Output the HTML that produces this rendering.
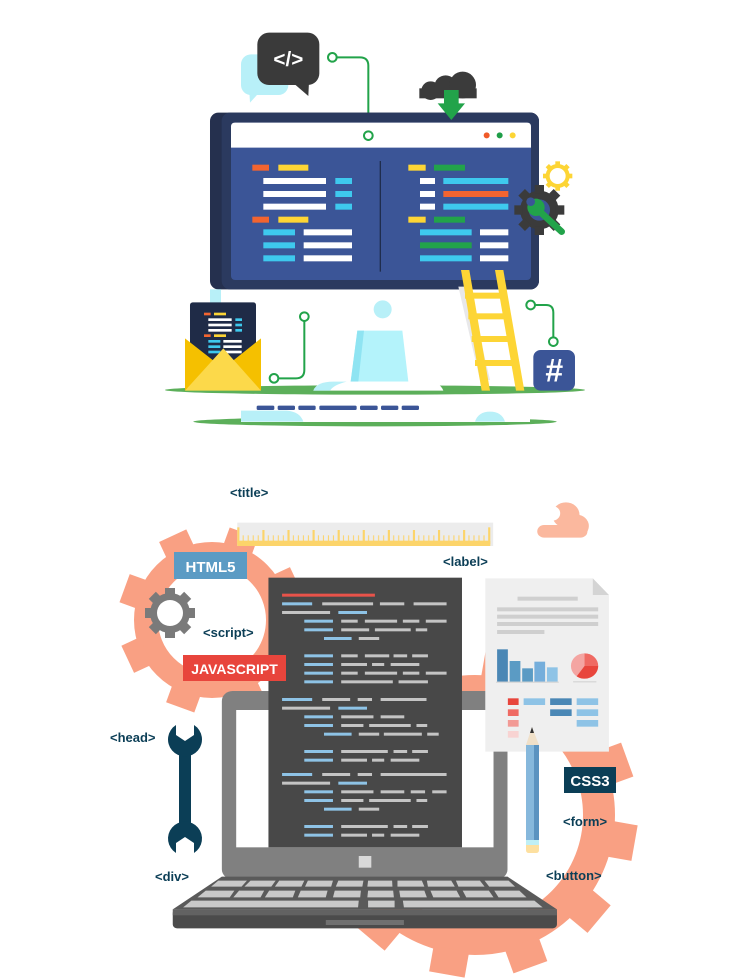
<!DOCTYPE html>
<html><head><meta charset="utf-8"><style>
html,body{margin:0;padding:0;background:#fff;width:750px;height:980px;overflow:hidden;}
svg{display:block;}
.t{font-family:"Liberation Sans",sans-serif;font-weight:bold;fill:#0b3e56;font-size:13px;}
.w{font-family:"Liberation Sans",sans-serif;font-weight:bold;fill:#fff;}
</style></head><body>
<svg width="750" height="980" viewBox="0 0 750 980" xmlns="http://www.w3.org/2000/svg">
<g transform="translate(160,20) scale(0.33333)">
  <ellipse cx="645" cy="1110" rx="630" ry="14" fill="#5caf5a"/>
  <ellipse cx="645" cy="1205" rx="545" ry="14" fill="#5caf5a"/>
  <rect x="243" y="103" width="142" height="122" rx="30" fill="#b8f0f8"/>
  <polygon points="268,215 300,215 270,248" fill="#b8f0f8"/>
  <rect x="292" y="38" width="186" height="157" rx="35" fill="#3a3a3a"/>
  <polygon points="395,185 447,185 445,228" fill="#3a3a3a"/>
  <text x="385" y="138" text-anchor="middle" class="w" font-size="62">&lt;/&gt;</text>
  <path d="M530,112 H600 Q625,112 625,137 V333" fill="none" stroke="#22a34a" stroke-width="6"/>
  <circle cx="517" cy="112" r="13" fill="#fff" stroke="#22a34a" stroke-width="6"/>
  <circle cx="812" cy="212" r="28" fill="#3b3b3b"/>
  <circle cx="857" cy="200" r="34" fill="#3b3b3b"/>
  <circle cx="908" cy="195" r="40" fill="#3b3b3b"/>
  <rect x="778" y="205" width="172" height="30" fill="#3b3b3b"/>
  <rect x="150" y="278" width="987" height="530" rx="25" fill="#25304e"/>
  <rect x="185" y="278" width="952" height="530" rx="25" fill="#2b3a5f"/>
  <rect x="213" y="308" width="900" height="472" rx="12" fill="#3b5597"/>
  <path d="M225,308 H1101 Q1113,308 1113,320 V383 H213 V320 Q213,308 225,308Z" fill="#fff"/>
  <circle cx="625" cy="347" r="13" fill="#fff" stroke="#22a34a" stroke-width="6"/>
  <circle cx="980" cy="346" r="9" fill="#f05a28"/>
  <circle cx="1019" cy="346" r="9" fill="#1f9e48"/>
  <circle cx="1058" cy="346" r="9" fill="#fcd535"/>
  <rect x="852" y="210" width="44" height="42" fill="#22a34a"/>
  <polygon points="833,250 915,250 874,300" fill="#22a34a"/>
  <g>
  <rect x="277" y="434" width="50" height="18" fill="#f26430"/><rect x="355" y="434" width="90" height="18" fill="#fdd535"/>
  <rect x="310" y="474" width="188" height="18" fill="#fff"/><rect x="526" y="474" width="50" height="18" fill="#3ec9ee"/>
  <rect x="310" y="513" width="188" height="18" fill="#fff"/><rect x="526" y="513" width="50" height="18" fill="#3ec9ee"/>
  <rect x="310" y="551" width="188" height="18" fill="#fff"/><rect x="526" y="551" width="50" height="18" fill="#3ec9ee"/>
  <rect x="277" y="590" width="50" height="18" fill="#f26430"/><rect x="355" y="590" width="90" height="18" fill="#fdd535"/>
  <rect x="310" y="628" width="95" height="18" fill="#3ec9ee"/><rect x="431" y="628" width="145" height="18" fill="#fff"/>
  <rect x="310" y="667" width="95" height="18" fill="#3ec9ee"/><rect x="431" y="667" width="145" height="18" fill="#fff"/>
  <rect x="310" y="706" width="95" height="18" fill="#3ec9ee"/><rect x="431" y="706" width="145" height="18" fill="#fff"/>
  </g>
  <rect x="659" y="423" width="4" height="332" fill="#1f2d4d"/>
  <g>
  <rect x="745" y="434" width="52" height="18" fill="#fdd535"/><rect x="822" y="434" width="93" height="18" fill="#22a34a"/>
  <rect x="780" y="474" width="45" height="18" fill="#fff"/><rect x="850" y="474" width="195" height="18" fill="#3ec9ee"/>
  <rect x="780" y="513" width="45" height="18" fill="#fff"/><rect x="850" y="513" width="195" height="18" fill="#f26430"/>
  <rect x="780" y="551" width="45" height="18" fill="#fff"/><rect x="850" y="551" width="195" height="18" fill="#3ec9ee"/>
  <rect x="745" y="590" width="52" height="18" fill="#fdd535"/><rect x="822" y="590" width="93" height="18" fill="#22a34a"/>
  <rect x="780" y="628" width="155" height="18" fill="#3ec9ee"/><rect x="960" y="628" width="85" height="18" fill="#fff"/>
  <rect x="780" y="667" width="155" height="18" fill="#22a34a"/><rect x="960" y="667" width="85" height="18" fill="#fff"/>
  <rect x="780" y="706" width="155" height="18" fill="#3ec9ee"/><rect x="960" y="706" width="85" height="18" fill="#fff"/>
  </g>
  <g transform="translate(1193,468)" fill="#fdd535">
    <circle r="30" fill="none" stroke="#fdd535" stroke-width="12"/>
    <rect x="-7" y="-44" width="14" height="14"/><rect x="-7" y="30" width="14" height="14"/>
    <rect x="-44" y="-7" width="14" height="14"/><rect x="30" y="-7" width="14" height="14"/>
    <rect x="-7" y="-44" width="14" height="14" transform="rotate(45)"/><rect x="-7" y="30" width="14" height="14" transform="rotate(45)"/>
    <rect x="-44" y="-7" width="14" height="14" transform="rotate(45)"/><rect x="30" y="-7" width="14" height="14" transform="rotate(45)"/>
  </g>
  <g transform="translate(1138,570)" fill="#3b3b3b">
    <circle r="58"/>
    <rect x="-14" y="-75" width="28" height="25"/><rect x="-14" y="50" width="28" height="25"/>
    <rect x="-75" y="-14" width="25" height="28"/><rect x="50" y="-14" width="25" height="28"/>
    <g transform="rotate(45)"><rect x="-14" y="-75" width="28" height="25"/><rect x="-14" y="50" width="28" height="25"/>
    <rect x="-75" y="-14" width="25" height="28"/><rect x="50" y="-14" width="25" height="28"/></g>
    <circle r="32" fill="#3b5597"/>
  </g>
  <line x1="1140" y1="575" x2="1205" y2="635" stroke="#22a34a" stroke-width="20" stroke-linecap="round"/>
  <circle cx="1128" cy="562" r="26" fill="#22a34a"/>
  <circle cx="1112" cy="545" r="13" fill="#3b5597"/>
  <rect x="150" y="808" width="33" height="40" fill="#b8f0f8"/>
  <circle cx="668" cy="868" r="27" fill="#b8f0f8"/>
  <polygon points="592,932 727,932 745,1085 572,1085" fill="#b4f3fb"/>
  <polygon points="592,932 612,932 595,1085 572,1085" fill="#8fe4f2"/>
  <path d="M460,1112 Q470,1085 520,1085 H800 Q840,1085 850,1112Z" fill="#fff"/>
  <path d="M460,1112 Q470,1085 520,1085 H560 Q520,1095 510,1112Z" fill="#b8f0f8"/>
  <rect x="243" y="1170" width="867" height="36" fill="#fff"/>
  <path d="M243,1172 H380 Q420,1175 430,1205 H243Z" fill="#b8f0f8"/>
  <g fill="#3b5597">
  <rect x="290" y="1157" width="53" height="13" rx="4"/><rect x="353" y="1157" width="52" height="13" rx="4"/>
  <rect x="415" y="1157" width="52" height="13" rx="4"/><rect x="478" y="1157" width="112" height="13" rx="4"/>
  <rect x="600" y="1157" width="53" height="13" rx="4"/><rect x="663" y="1157" width="52" height="13" rx="4"/>
  <rect x="725" y="1157" width="52" height="13" rx="4"/>
  </g>
  <path d="M945,1205 Q955,1175 990,1175 Q1025,1175 1035,1205Z" fill="#b8f0f8"/>
  <polygon points="895,800 925,800 990,1080 960,1080" fill="#e8e8ea"/>
  <g fill="#fdd535">
    <polygon points="903,750 928,750 990,1112 965,1112"/>
    <polygon points="1005,750 1030,750 1093,1112 1068,1112"/>
    <rect x="915" y="818" width="110" height="18"/>
    <rect x="925" y="880" width="110" height="18"/>
    <rect x="935" y="948" width="115" height="18"/>
    <rect x="945" y="1020" width="115" height="18"/>
  </g>
  <rect x="90" y="847" width="198" height="175" rx="8" fill="#1f2b47"/>
  <g>
  <rect x="132" y="878" width="20" height="8" fill="#f26430"/><rect x="162" y="878" width="36" height="8" fill="#fdd535"/>
  <rect x="145" y="895" width="70" height="8" fill="#fff"/><rect x="226" y="895" width="20" height="8" fill="#3ec9ee"/>
  <rect x="145" y="911" width="70" height="8" fill="#fff"/><rect x="226" y="911" width="20" height="8" fill="#3ec9ee"/>
  <rect x="145" y="927" width="70" height="8" fill="#fff"/><rect x="226" y="927" width="20" height="8" fill="#3ec9ee"/>
  <rect x="132" y="943" width="20" height="8" fill="#f26430"/><rect x="162" y="943" width="36" height="8" fill="#fdd535"/>
  <rect x="145" y="960" width="36" height="8" fill="#3ec9ee"/><rect x="190" y="960" width="55" height="8" fill="#fff"/>
  <rect x="145" y="976" width="36" height="8" fill="#3ec9ee"/><rect x="190" y="976" width="55" height="8" fill="#fff"/>
  <rect x="145" y="992" width="36" height="8" fill="#3ec9ee"/><rect x="190" y="992" width="55" height="8" fill="#fff"/>
  </g>
  <polygon points="75,955 190,1045 75,1112" fill="#f5c000"/>
  <polygon points="303,955 190,1045 303,1112" fill="#f5c000"/>
  <polygon points="75,1112 190,985 303,1112" fill="#fcd94a"/>
  <path d="M433,903 V1050 Q433,1075 408,1075 H355" fill="none" stroke="#22a34a" stroke-width="6"/>
  <circle cx="433" cy="890" r="13" fill="#fff" stroke="#22a34a" stroke-width="6"/>
  <circle cx="342" cy="1075" r="13" fill="#fff" stroke="#22a34a" stroke-width="6"/>
  <path d="M1125,855 H1158 Q1180,855 1180,878 V952" fill="none" stroke="#22a34a" stroke-width="6"/>
  <circle cx="1112" cy="855" r="13" fill="#fff" stroke="#22a34a" stroke-width="6"/>
  <circle cx="1180" cy="965" r="13" fill="#fff" stroke="#22a34a" stroke-width="6"/>
  <rect x="1120" y="990" width="125" height="122" rx="22" fill="#3b5597"/>
  <text x="1183" y="1085" text-anchor="middle" class="w" font-size="96">#</text>
</g>

<g transform="translate(212,620)" fill="#f9a083">
  <circle r="66" fill="none" stroke="#f9a083" stroke-width="24"/>
  <g transform="rotate(20)"><rect x="-15" y="-93" width="30" height="20"/><rect x="-15" y="73" width="30" height="20"/><rect x="-93" y="-15" width="20" height="30"/><rect x="73" y="-15" width="20" height="30"/></g>
  <g transform="rotate(65)"><rect x="-15" y="-93" width="30" height="20"/><rect x="-15" y="73" width="30" height="20"/><rect x="-93" y="-15" width="20" height="30"/><rect x="73" y="-15" width="20" height="30"/></g>
</g>
<g transform="translate(475,815)" fill="#f9a083">
  <circle r="124" fill="none" stroke="#f9a083" stroke-width="32"/>
  <g transform="rotate(10)"><rect x="-18" y="-162" width="36" height="26"/><rect x="-18" y="136" width="36" height="26"/><rect x="-162" y="-18" width="26" height="36"/><rect x="136" y="-18" width="26" height="36"/></g>
  <g transform="rotate(40)"><rect x="-18" y="-162" width="36" height="26"/><rect x="-18" y="136" width="36" height="26"/><rect x="-162" y="-18" width="26" height="36"/><rect x="136" y="-18" width="26" height="36"/></g>
  <g transform="rotate(70)"><rect x="-18" y="-162" width="36" height="26"/><rect x="-18" y="136" width="36" height="26"/><rect x="-162" y="-18" width="26" height="36"/><rect x="136" y="-18" width="26" height="36"/></g>
</g>
<g transform="translate(170,613)" fill="#7a7a7a">
  <circle r="20"/>
  <rect x="-5" y="-25" width="10" height="8"/><rect x="-5" y="17" width="10" height="8"/><rect x="-25" y="-5" width="8" height="10"/><rect x="17" y="-5" width="8" height="10"/>
  <g transform="rotate(45)"><rect x="-5" y="-25" width="10" height="8"/><rect x="-5" y="17" width="10" height="8"/><rect x="-25" y="-5" width="8" height="10"/><rect x="17" y="-5" width="8" height="10"/></g>
  <circle r="13" fill="#fff"/>
</g>

<g transform="translate(100,470) scale(0.3584,0.33333)">
  <defs><pattern id="mt" width="14" height="20" patternUnits="userSpaceOnUse"><rect x="6" width="3" height="20" fill="#fcd46a"/></pattern></defs>
  <rect x="383" y="158" width="714" height="70" fill="#ececec"/>
  <rect x="383" y="212" width="706" height="16" fill="#fcd46a"/>
  <rect x="383" y="172" width="6" height="50" fill="#fcd46a"/>
  <rect x="1083" y="172" width="6" height="50" fill="#fcd46a"/>
  <g fill="#fcd46a">
    <rect x="453" y="180" width="6" height="40"/><rect x="523" y="180" width="6" height="40"/><rect x="593" y="180" width="6" height="40"/>
    <rect x="663" y="180" width="6" height="40"/><rect x="733" y="180" width="6" height="40"/><rect x="803" y="180" width="6" height="40"/>
    <rect x="873" y="180" width="6" height="40"/><rect x="943" y="180" width="6" height="40"/><rect x="1013" y="180" width="6" height="40"/>
  </g>
  <rect x="390" y="196" width="693" height="20" fill="url(#mt)"/>
  <circle cx="1300" cy="135" r="38" fill="#fbb89e"/>
  <circle cx="1330" cy="168" r="34" fill="#fbb89e"/>
  <rect x="1220" y="165" width="140" height="38" rx="19" fill="#fbb89e"/>
  <circle cx="1262" cy="130" r="22" fill="#fff"/>
  <rect x="340" y="663" width="797" height="565" rx="30" fill="#808080"/>
  <rect x="380" y="720" width="718" height="412" fill="#fff"/>
  <rect x="722" y="1158" width="35" height="35" fill="#d9d9d9"/>
  <polygon points="340,1220 1137,1220 1275,1318 203,1318" fill="#5a5a5a"/>
  <g fill="#c9c9c9">
    <polygon points="330,1232 410,1232 395,1250 310,1250"/><polygon points="420,1232 490,1232 478,1250 403,1250"/>
    <polygon points="500,1232 570,1232 562,1250 488,1250"/><polygon points="580,1232 650,1232 645,1250 572,1250"/>
    <polygon points="665,1232 735,1232 732,1250 658,1250"/><polygon points="748,1232 815,1232 816,1250 746,1250"/>
    <polygon points="830,1232 898,1232 905,1250 830,1250"/><polygon points="912,1232 980,1232 990,1250 915,1250"/>
    <polygon points="993,1232 1060,1232 1073,1250 1000,1250"/><polygon points="1073,1232 1140,1232 1158,1250 1086,1250"/>
    <polygon points="295,1262 375,1262 362,1282 272,1282"/><polygon points="388,1262 458,1262 448,1282 372,1282"/>
    <polygon points="472,1262 545,1262 538,1282 460,1282"/><polygon points="560,1262 635,1262 630,1282 552,1282"/>
    <polygon points="655,1262 728,1262 726,1282 650,1282"/><polygon points="748,1262 818,1262 820,1282 746,1282"/>
    <polygon points="835,1262 905,1262 912,1282 838,1282"/><polygon points="922,1262 995,1262 1005,1282 930,1282"/>
    <polygon points="1012,1262 1085,1262 1098,1282 1022,1282"/><polygon points="1100,1262 1170,1262 1190,1282 1112,1282"/>
    <polygon points="255,1292 722,1292 720,1312 232,1312"/><polygon points="748,1292 822,1292 822,1312 748,1312"/>
    <polygon points="845,1292 1212,1292 1235,1312 848,1312"/>
  </g>
  <rect x="203" y="1318" width="1072" height="57" rx="12" fill="#4b4b4b"/>
  <rect x="203" y="1318" width="1072" height="18" fill="#626262"/>
  <rect x="630" y="1350" width="218" height="15" fill="#707070"/>
  <rect x="470" y="323" width="540" height="809" fill="#484848"/>
  <g fill="#8ec3e6">
    <rect x="508" y="397" width="84" height="9"/><rect x="665" y="423" width="80" height="9"/>
    <rect x="570" y="449" width="80" height="9"/><rect x="570" y="475" width="80" height="9"/><rect x="625" y="501" width="77" height="9"/>
    <rect x="570" y="553" width="80" height="9"/><rect x="570" y="579" width="80" height="9"/><rect x="570" y="605" width="80" height="9"/><rect x="570" y="631" width="80" height="9"/>
    <rect x="508" y="684" width="84" height="9"/><rect x="665" y="710" width="80" height="9"/>
    <rect x="570" y="736" width="80" height="9"/><rect x="570" y="762" width="80" height="9"/><rect x="625" y="788" width="77" height="9"/>
    <rect x="570" y="840" width="80" height="9"/><rect x="570" y="866" width="80" height="9"/>
    <rect x="508" y="909" width="84" height="9"/><rect x="665" y="935" width="80" height="9"/>
    <rect x="570" y="961" width="80" height="9"/><rect x="570" y="987" width="80" height="9"/><rect x="625" y="1013" width="77" height="9"/>
    <rect x="570" y="1065" width="80" height="9"/><rect x="570" y="1091" width="80" height="9"/>
  </g>
  <rect x="508" y="371" width="259" height="9" fill="#e8534a"/>
  <g fill="#c4c4c4">
    <rect x="620" y="397" width="142" height="9"/><rect x="781" y="397" width="68" height="9"/><rect x="875" y="397" width="92" height="9"/>
    <rect x="508" y="423" width="134" height="9"/>
    <rect x="673" y="449" width="46" height="9"/><rect x="739" y="449" width="90" height="9"/><rect x="845" y="449" width="46" height="9"/><rect x="909" y="449" width="58" height="9"/>
    <rect x="673" y="475" width="78" height="9"/><rect x="767" y="475" width="100" height="9"/><rect x="881" y="475" width="32" height="9"/>
    <rect x="722" y="501" width="57" height="9"/>
    <rect x="673" y="553" width="46" height="9"/><rect x="739" y="553" width="68" height="9"/><rect x="819" y="553" width="38" height="9"/><rect x="871" y="553" width="44" height="9"/>
    <rect x="673" y="579" width="72" height="9"/><rect x="759" y="579" width="34" height="9"/><rect x="811" y="579" width="80" height="9"/>
    <rect x="673" y="605" width="46" height="9"/><rect x="739" y="605" width="90" height="9"/><rect x="845" y="605" width="46" height="9"/><rect x="909" y="605" width="58" height="9"/>
    <rect x="673" y="631" width="144" height="9"/><rect x="833" y="631" width="82" height="9"/>
    <rect x="620" y="684" width="78" height="9"/><rect x="719" y="684" width="40" height="9"/><rect x="783" y="684" width="128" height="9"/>
    <rect x="508" y="710" width="134" height="9"/>
    <rect x="673" y="736" width="90" height="9"/><rect x="783" y="736" width="66" height="9"/>
    <rect x="673" y="762" width="62" height="9"/><rect x="751" y="762" width="116" height="9"/><rect x="883" y="762" width="30" height="9"/>
    <rect x="722" y="788" width="57" height="9"/><rect x="792" y="788" width="106" height="9"/><rect x="913" y="788" width="32" height="9"/>
    <rect x="673" y="840" width="130" height="9"/><rect x="819" y="840" width="38" height="9"/><rect x="871" y="840" width="44" height="9"/>
    <rect x="673" y="866" width="72" height="9"/><rect x="759" y="866" width="34" height="9"/><rect x="811" y="866" width="80" height="9"/>
    <rect x="620" y="909" width="78" height="9"/><rect x="719" y="909" width="40" height="9"/><rect x="783" y="909" width="184" height="9"/>
    <rect x="508" y="935" width="134" height="9"/>
    <rect x="673" y="961" width="90" height="9"/><rect x="783" y="961" width="66" height="9"/><rect x="867" y="961" width="40" height="9"/><rect x="927" y="961" width="40" height="9"/>
    <rect x="673" y="987" width="62" height="9"/><rect x="751" y="987" width="116" height="9"/><rect x="883" y="987" width="30" height="9"/>
    <rect x="722" y="1013" width="57" height="9"/>
    <rect x="673" y="1065" width="130" height="9"/><rect x="819" y="1065" width="38" height="9"/><rect x="871" y="1065" width="44" height="9"/>
    <rect x="673" y="1091" width="72" height="9"/><rect x="759" y="1091" width="34" height="9"/><rect x="811" y="1091" width="80" height="9"/>
  </g>
  <polygon points="1075,325 1375,325 1420,375 1420,845 1075,845" fill="#efefef"/>
  <polygon points="1375,325 1420,375 1375,375" fill="#d4d4d4"/>
  <g fill="#cfcfcf">
    <rect x="1165" y="380" width="168" height="12"/>
    <rect x="1108" y="412" width="282" height="12"/><rect x="1108" y="434" width="282" height="12"/>
    <rect x="1108" y="456" width="282" height="12"/><rect x="1108" y="480" width="132" height="12"/>
  </g>
  <rect x="1108" y="538" width="30" height="97" fill="#4a87b5"/>
  <rect x="1143" y="573" width="30" height="62" fill="#5b9bc4"/>
  <rect x="1178" y="595" width="30" height="40" fill="#5b9bc4"/>
  <rect x="1212" y="575" width="30" height="60" fill="#75aedb"/>
  <rect x="1247" y="592" width="30" height="43" fill="#8ec3e6"/>
  <rect x="1105" y="635" width="175" height="3" fill="#d0d0d0"/>
  <circle cx="1352" cy="588" r="38" fill="#f4a5a2"/>
  <path d="M1352,588 L1390,588 A38,38 0 0,1 1330,619 Z" fill="#e8453c"/>
  <path d="M1352,588 L1352,550 A38,38 0 0,1 1390,588 Z" fill="#ef6a63"/>
  <rect x="1320" y="634" width="65" height="3" fill="#d0d0d0"/>
  <rect x="1138" y="685" width="30" height="20" fill="#e8453c"/>
  <rect x="1138" y="718" width="30" height="20" fill="#ef6a63"/>
  <rect x="1138" y="750" width="30" height="20" fill="#f29a95"/>
  <rect x="1138" y="783" width="30" height="20" fill="#f8d3d2"/>
  <rect x="1182" y="685" width="60" height="20" fill="#8ec3e6"/>
  <rect x="1256" y="685" width="60" height="20" fill="#4a87b5"/>
  <rect x="1256" y="718" width="60" height="20" fill="#4a87b5"/>
  <rect x="1330" y="685" width="60" height="20" fill="#8ec3e6"/>
  <rect x="1330" y="718" width="60" height="20" fill="#8ec3e6"/>
  <rect x="1330" y="750" width="60" height="20" fill="#8ec3e6"/>
</g>

<polygon points="526,745 532,727 539,745" fill="#f0e0c8"/>
<polygon points="530,733 532,727 534,733" fill="#333"/>
<rect x="526" y="745" width="13" height="95" fill="#86b8dc"/>
<rect x="534" y="745" width="5" height="95" fill="#5b93c0"/>
<rect x="526" y="840" width="13" height="5" fill="#bfeff5"/>
<path d="M526,845 H539 V850 Q539,853 536,853 H529 Q526,853 526,850Z" fill="#fde0a0"/>

<g fill="#0b3e56">
  <rect x="179" y="745" width="12" height="92"/>
  <path d="M176,725 A17,17 0 1,0 194,725 L194,735 L185,741 L176,735 Z"/>
  <path d="M176,853 A17,17 0 1,1 194,853 L194,843 L185,837 L176,843 Z"/>
</g>

<rect x="174" y="552" width="73" height="27" fill="#5b9bc4"/>
<text x="210.5" y="572" text-anchor="middle" class="w" font-size="15">HTML5</text>
<rect x="183" y="655" width="103" height="26" fill="#e8453c"/>
<text x="234.5" y="674" text-anchor="middle" class="w" font-size="14">JAVASCRIPT</text>
<rect x="564" y="767" width="52" height="26" fill="#0b3e56"/>
<text x="590" y="786" text-anchor="middle" class="w" font-size="15">CSS3</text>

<text x="230" y="497" class="t">&lt;title&gt;</text>
<text x="443" y="566" class="t">&lt;label&gt;</text>
<text x="203" y="637" class="t">&lt;script&gt;</text>
<text x="110" y="742" class="t">&lt;head&gt;</text>
<text x="155" y="881" class="t">&lt;div&gt;</text>
<text x="563" y="826" class="t">&lt;form&gt;</text>
<text x="546" y="880" class="t">&lt;button&gt;</text>
</svg>
</body></html>
